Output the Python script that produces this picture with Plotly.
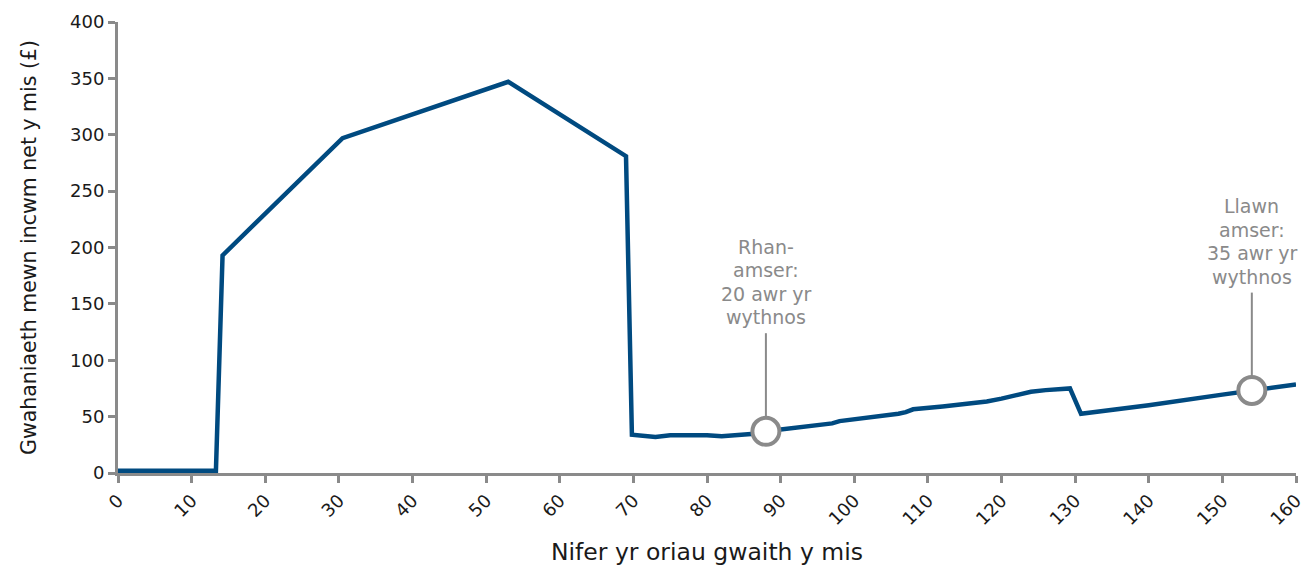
import plotly.graph_objects as go

# Data
hours = [0, 13.3, 14.2, 30.5, 53, 69, 69.8, 72, 73, 75, 77, 79, 80, 82, 84, 86, 88,
         92, 95, 97, 98, 102, 106, 107, 108, 112, 116, 118, 120, 122, 124, 126,
         129.3, 130.8, 140, 150, 154, 160]
diff = [2, 2, 193, 297, 347, 281, 34, 32.5, 32, 33.5, 33.5, 33, 33.5, 32.5, 33, 34.5, 37,
        40, 42.5, 44, 46, 49, 52.5, 54, 56.5, 59, 61.5, 63.5, 66, 69.5, 72, 73.5,
        75, 52.5, 60, 69.5, 73, 78.5]

marker_hours = [88, 154]
marker_vals = [37, 73.2]
marker_labels = ["Rhan-<br>amser:<br>20 awr yr<br>wythnos",
                 "Llawn<br>amser:<br>35 awr yr<br>wythnos"]
label_line_top = [124, 160]  # top of leader lines (y units)

x_ticks = list(range(0, 161, 10))
y_ticks = list(range(0, 401, 50))

BLUE = "#004a80"
GREY = "#8a8a8a"
FONT = "DejaVu Sans"
TXT = "#1a1a1a"

fig = go.Figure()
fig.add_trace(go.Scatter(x=hours, y=diff, mode="lines",
                         line=dict(color=BLUE, width=4.5), hoverinfo="skip",
                         showlegend=False))
fig.add_trace(go.Scatter(x=marker_hours, y=marker_vals, mode="markers",
                         marker=dict(size=27, color="white",
                                     line=dict(color=GREY, width=4)),
                         showlegend=False, hoverinfo="skip"))

LINE_H = 23.5
for hx, hy, top, lab in zip(marker_hours, marker_vals, label_line_top, marker_labels):
    fig.add_shape(type="line", x0=hx, x1=hx, y0=hy, y1=top, xref="x", yref="y",
                  line=dict(color=GREY, width=2), layer="below")
    parts = lab.split("<br>")
    n = len(parts)
    for k, p in enumerate(parts):
        fig.add_annotation(x=hx, y=top, xref="x", yref="y", text=p, showarrow=False,
                           yanchor="bottom", yshift=3 + (n - 1 - k) * LINE_H,
                           align="center",
                           font=dict(family=FONT, size=19, color=GREY))

fig.update_layout(
    width=1307, height=573,
    margin=dict(l=118, r=11, t=22, b=100),
    plot_bgcolor="white", paper_bgcolor="white",
    font=dict(family=FONT, color=TXT),
    xaxis=dict(range=[0, 160], tickvals=x_ticks, tickangle=-45,
               showline=True, linecolor=GREY, linewidth=3,
               ticks="outside", tickcolor=GREY, tickwidth=3, ticklen=7,
               showgrid=False, zeroline=False, ticklabeloverflow="allow",
               automargin=False,
               tickfont=dict(family=FONT, size=18, color=TXT),
               title=dict(text="Nifer yr oriau gwaith y mis",
                          font=dict(family=FONT, size=23.5, color=TXT),
                          standoff=16)),
    yaxis=dict(range=[0, 400], tickvals=y_ticks,
               showline=True, linecolor=GREY, linewidth=3,
               ticks="outside", tickcolor=GREY, tickwidth=3, ticklen=7,
               showgrid=False, zeroline=False, automargin=False,
               tickfont=dict(family=FONT, size=18, color=TXT),
               title=dict(text="Gwahaniaeth mewn incwm net y mis (£)",
                          font=dict(family=FONT, size=20.5, color=TXT),
                          standoff=28)),
)

fig.write_html("out.html", config={"displayModeBar": False},
               post_script="document.body.style.margin='0';document.body.style.padding='0';")
